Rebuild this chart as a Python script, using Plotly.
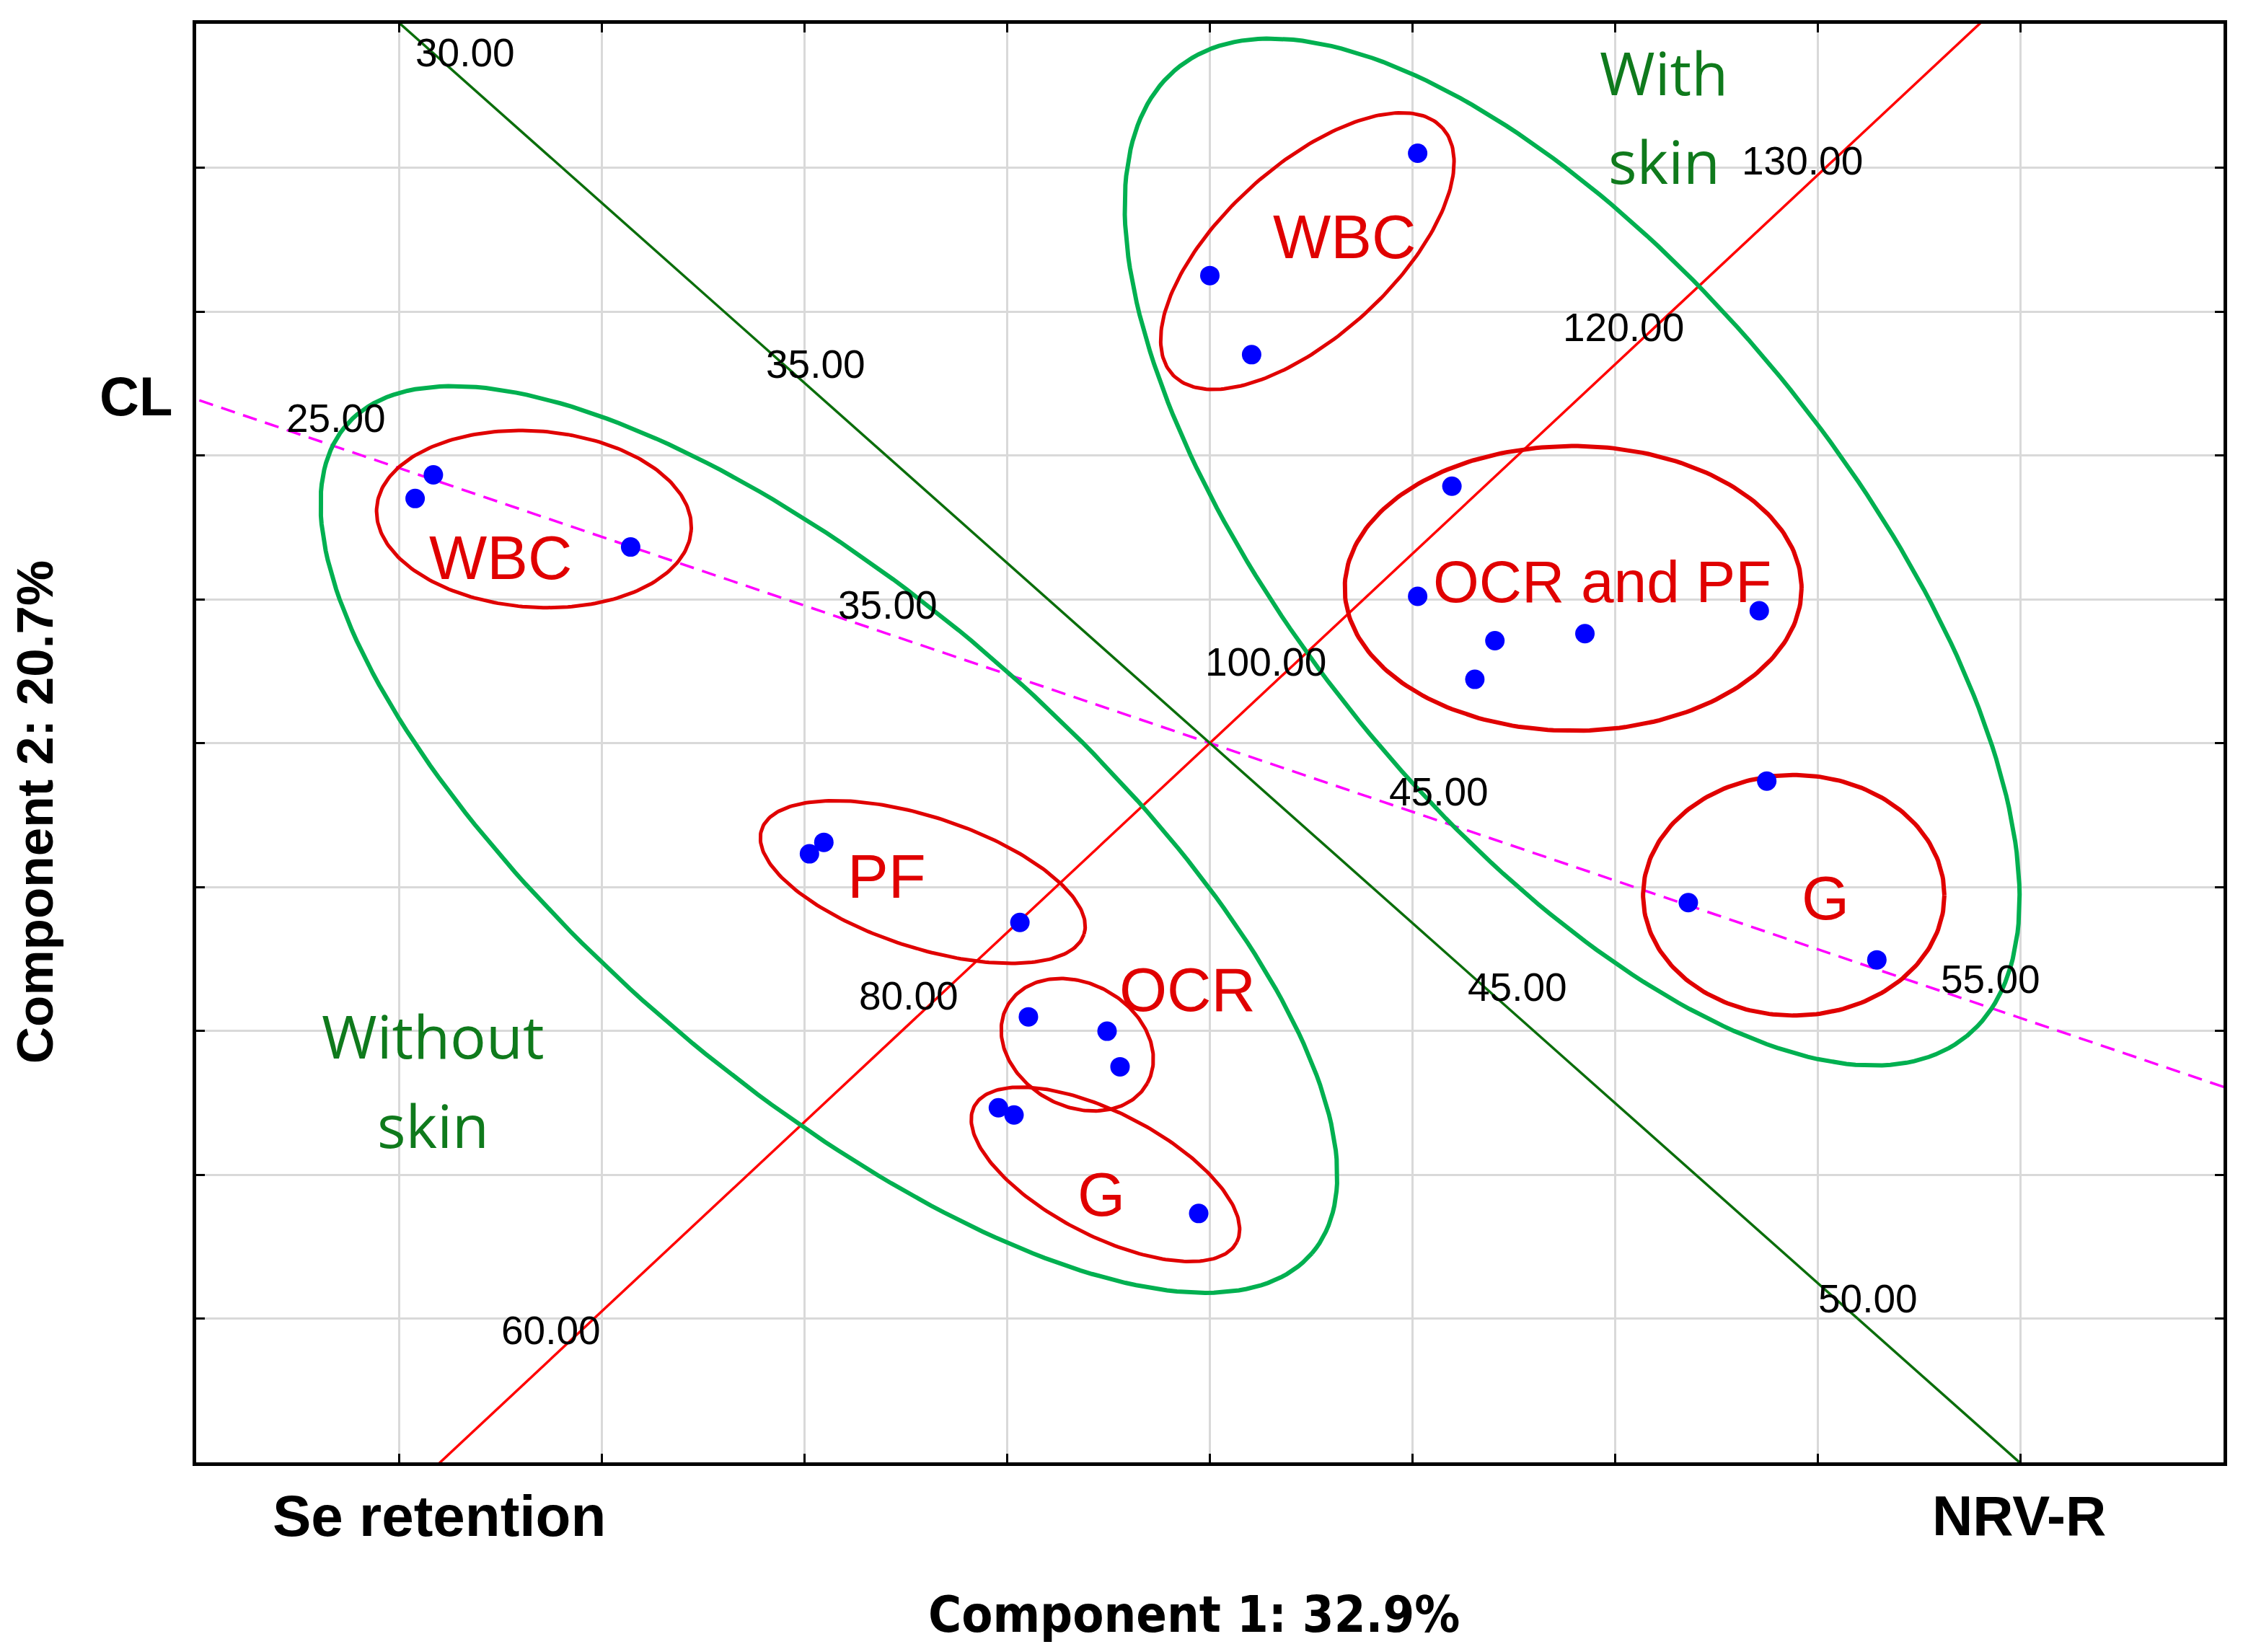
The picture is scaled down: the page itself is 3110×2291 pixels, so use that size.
import numpy as np
import plotly.graph_objects as go

# ---------------- data ----------------
score_x = [1.025, 0.000, 0.206,
           -3.92, -3.83, -2.857,
           1.194, 1.025, 1.406, 1.307, 1.85, 2.71,
           2.747, 2.36, 3.29,
           -1.975, -1.904, -0.937,
           -0.895, -0.507, -0.443,
           -1.043, -0.966, -0.055]
score_y = [4.10, 3.25, 2.70,
           1.70, 1.865, 1.363,
           1.786, 1.02, 0.712, 0.443, 0.761, 0.92,
           -0.264, -1.109, -1.507,
           -0.77, -0.69, -1.247,
           -1.903, -2.003, -2.25,
           -2.535, -2.585, -3.27]

# biplot variable axes (slope in score units)
var_names = ["NRV-R", "Se retention", "CL"]
red_slope = 1.317
green_slope = -1.252
magenta_slope = -0.478

red_scale = [60, 80, 100, 120, 130]
green_scale = [30, 35, 45, 50]
magenta_scale = [25, 35, 45, 55]

group_labels = ["WBC", "WBC", "OCR and PF", "G", "PF", "OCR", "G"]
group_label_x = [0.664, -3.498, 1.935, 3.036, -1.594, -0.111, -0.535]
group_label_y = [3.52, 1.289, 1.124, -1.078, -0.928, -1.715, -3.137]

# ---------------- helpers ----------------
PX_X = 281.1  # pixels per unit
PX_Y = 199.5


def ellipse(cx, cy, a, b, ang, n=240):
    t = np.linspace(0, 2 * np.pi, n)
    th = np.deg2rad(ang)
    ex, ey = a * np.cos(t), b * np.sin(t)
    X = ex * np.cos(th) - ey * np.sin(th)
    Y = ex * np.sin(th) + ey * np.cos(th)
    return cx + X / PX_X, cy - Y / PX_Y


fig = go.Figure()

xs = np.array([-5.2, 5.2])
fig.add_trace(go.Scatter(x=xs, y=magenta_slope * xs, mode="lines",
                         line=dict(color="#ff00ff", width=3.5, dash="20px,12px"), hoverinfo="skip"))
fig.add_trace(go.Scatter(x=xs, y=red_slope * xs, mode="lines",
                         line=dict(color="#ff0000", width=3.5), hoverinfo="skip"))
fig.add_trace(go.Scatter(x=xs, y=green_slope * xs, mode="lines",
                         line=dict(color="#0b6e0b", width=3.5), hoverinfo="skip"))

# ellipses: (cx, cy, a_px, b_px, angle, color, width)
ellipses = [
    (1.787, 1.328, 866, 377, 50.8, "#00b050", 6),
    (-1.879, -0.670, 882, 338, 40.6, "#00b050", 6),
    (0.481, 3.420, 253.5, 118, -42.4, "#e00000", 5),
    (-3.334, 1.557, 218.6, 122.2, 4.1, "#e00000", 5),
    (1.792, 1.075, 316.7, 197.5, 0, "#e00000", 6),
    (2.880, -1.058, 208.9, 166.8, 0, "#e00000", 6),
    (-1.416, -0.966, 235, 90.8, 18, "#e00000", 5),
    (-0.654, -2.097, 110.9, 85.3, 28.8, "#e00000", 5),
    (-0.515, -2.998, 204.9, 85.3, 27.4, "#e00000", 5),
]
for cx, cy, a, b, ang, col, w in ellipses:
    ex, ey = ellipse(cx, cy, a, b, ang)
    fig.add_trace(go.Scatter(x=ex, y=ey, mode="lines", line=dict(color=col, width=w),
                             hoverinfo="skip"))

fig.add_trace(go.Scatter(x=score_x, y=score_y, mode="markers",
                         marker=dict(color="#0000ff", size=27, line=dict(width=0))))

ann = []
lab_font = dict(family="Liberation Sans, Arial, sans-serif", size=55, color="black")


def scale_labels(vals, x0, vc, s, slope):
    for v in vals:
        lx = x0 + (v - vc) * s
        ly = slope * lx + 0.2
        ann.append(dict(x=lx, y=ly, xref="x", yref="y", text=f"{v:.2f}", showarrow=False,
                        font=lab_font, xanchor="center", yanchor="middle"))


scale_labels(red_scale, 0.277, 100, 0.0882, red_slope)
scale_labels(green_scale, -0.214, 40, 0.346, green_slope)
scale_labels(magenta_scale, -0.23, 40, 0.272, magenta_slope)

for t, x, y in zip(group_labels, group_label_x, group_label_y):
    ann.append(dict(x=x, y=y, xref="x", yref="y", text=t, showarrow=False,
                    font=dict(family="Liberation Sans, Arial, sans-serif",
                              size=82 if len(t) > 4 else 85, color="#e00000"),
                    xanchor="center", yanchor="middle"))

green_font = dict(family="Open Sans, Liberation Sans, sans-serif", size=83, color="#0f7a1c")
for t, x, y in [("With", 2.24, 4.668), ("skin", 2.24, 4.05), ("Without", -3.83, -2.03), ("skin", -3.83, -2.65)]:
    ann.append(dict(x=x, y=y, xref="x", yref="y", text=t, showarrow=False, font=green_font,
                    xanchor="center", yanchor="middle"))

bold = "Liberation Sans, Arial, sans-serif"
ann.append(dict(x=-0.0297, y=0.7412, xref="paper", yref="paper", text="<b>CL</b>", showarrow=False,
                font=dict(family=bold, size=76, color="black"), xanchor="center", yanchor="middle"))
ann.append(dict(x=0.1199, y=-0.0371, xref="paper", yref="paper", text="<b>Se retention</b>", showarrow=False,
                font=dict(family=bold, size=80, color="black"), xanchor="center", yanchor="middle"))
ann.append(dict(x=0.8993, y=-0.0371, xref="paper", yref="paper", text="<b>NRV-R</b>", showarrow=False,
                font=dict(family=bold, size=78, color="black"), xanchor="center", yanchor="middle"))
ann.append(dict(x=0.4923, y=-0.1058, xref="paper", yref="paper", text="<b>Component 1: 32.9%</b>",
                showarrow=False,
                font=dict(family="Liberation Sans Narrow, Arial Narrow, DejaVu Sans Condensed, Liberation Sans",
                          size=70, color="black"),
                xanchor="center", yanchor="middle"))
ann.append(dict(x=-0.0795, y=0.4518, xref="paper", yref="paper", text="<b>Component 2: 20.7%</b>",
                showarrow=False, textangle=-90,
                font=dict(family=bold, size=71, color="black"), xanchor="center", yanchor="middle"))

axis_common = dict(range=[-5, 5], dtick=1, tick0=0, showticklabels=False, ticks="inside",
                   ticklen=12, tickwidth=3, tickcolor="black", showline=True, linewidth=5,
                   linecolor="black", mirror="ticks", showgrid=True, gridcolor="#d9d9d9",
                   gridwidth=3, zeroline=False, fixedrange=True)

# page body adds an 8px offset; margins compensate so the plot area lands at 272..3083 x 33..2028
fig.update_layout(
    width=3110, height=2291,
    margin=dict(l=264, r=35, t=25, b=271),
    paper_bgcolor="white", plot_bgcolor="white",
    showlegend=False,
    xaxis=axis_common, yaxis=axis_common,
    annotations=ann,
)

fig.write_html("out.html")
